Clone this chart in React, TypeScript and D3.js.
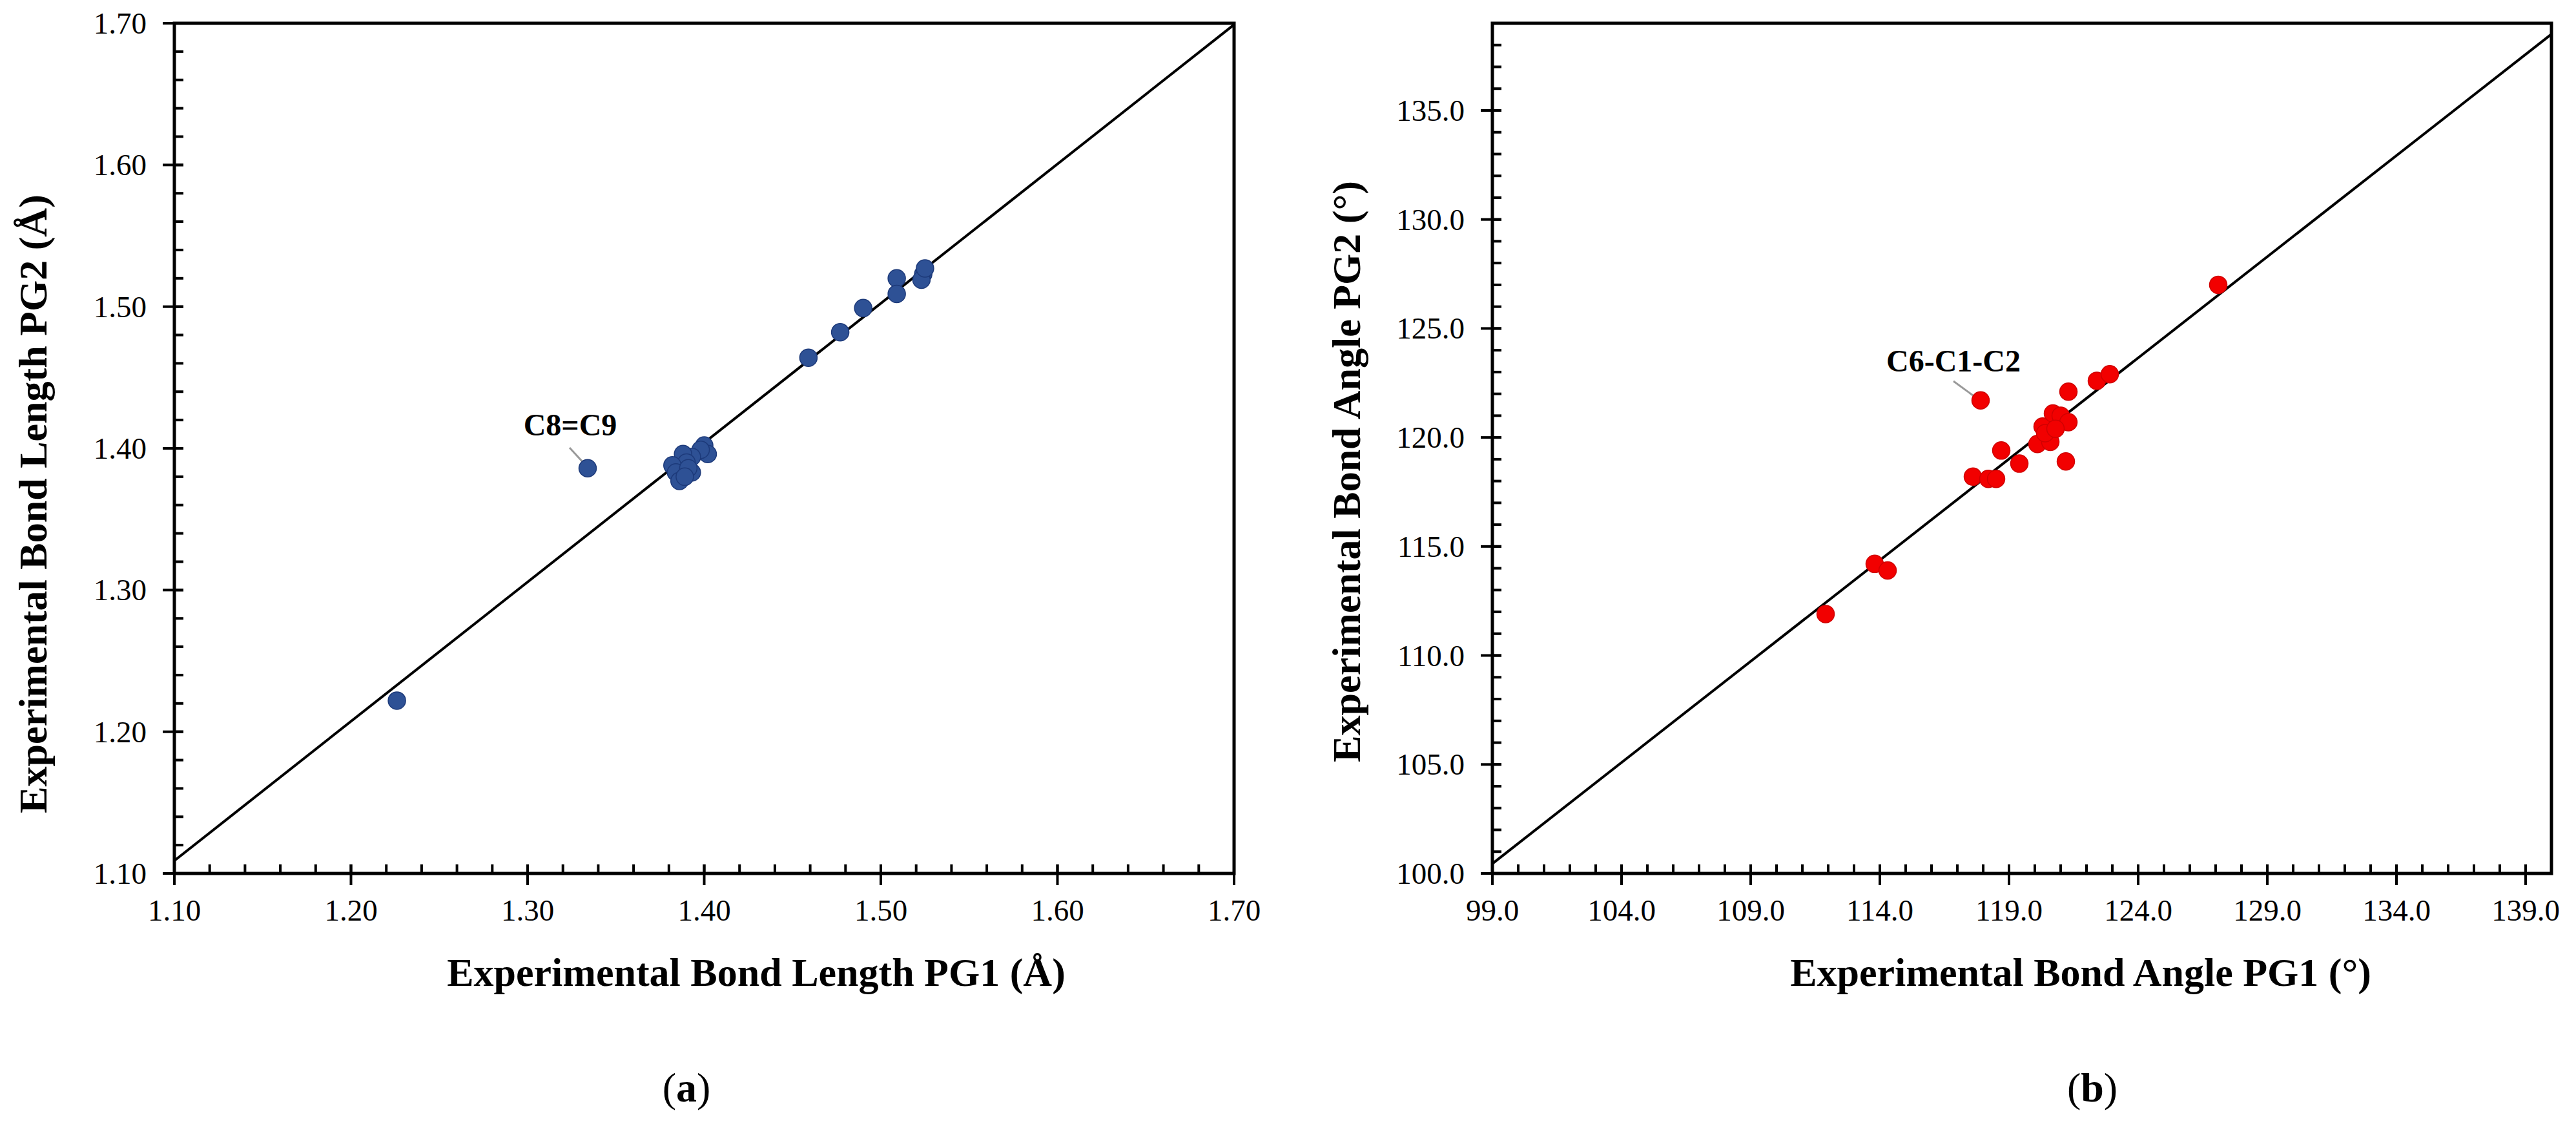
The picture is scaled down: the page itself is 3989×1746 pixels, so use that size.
import React from "react";
import * as d3 from "d3";

// ---------- data ----------
const lengthPG1 = [1.226, 1.334, 1.400, 1.402, 1.398, 1.393, 1.388, 1.390, 1.382, 1.384, 1.386, 1.393, 1.391, 1.389, 1.459, 1.477, 1.490, 1.509, 1.509, 1.524, 1.523, 1.525];
const lengthPG2 = [1.222, 1.386, 1.402, 1.396, 1.399, 1.394, 1.396, 1.390, 1.388, 1.383, 1.377, 1.383, 1.386, 1.380, 1.464, 1.482, 1.499, 1.520, 1.509, 1.523, 1.519, 1.527];

const anglePG1 = [111.9, 113.8, 114.3, 117.6, 118.2, 118.5, 118.7, 119.4, 117.9, 120.1, 120.3, 120.6, 120.7, 121.0, 120.4, 121.3, 121.3, 121.2, 122.4, 122.9, 127.1, 120.8];
const anglePG2 = [111.9, 114.2, 113.9, 118.2, 118.1, 118.1, 119.4, 118.8, 121.7, 119.7, 120.5, 119.8, 121.1, 121.0, 120.2, 120.7, 122.1, 118.9, 122.6, 122.9, 127.0, 120.4];

const lengthTicks = [1.1, 1.2, 1.3, 1.4, 1.5, 1.6, 1.7];
const angleXTicks = [99, 104, 109, 114, 119, 124, 129, 134, 139];
const angleYTicks = [100, 105, 110, 115, 120, 125, 130, 135];

const lengthFitX = [1.1, 1.7];
const lengthFitY = [1.109, 1.699];
const angleFitX = [99, 140];
const angleFitY = [100.45, 138.5];

const lengthLabel = { text: "C8=C9", pointIndex: 1 };
const angleLabel = { text: "C6-C1-C2", pointIndex: 8 };

// ---------- layout ----------
const W = 3989;
const H = 1746;
const FONT = "'Liberation Serif', 'Times New Roman', serif";
const TOP = 36;
const BOTTOM = 1352;

type PanelProps = {
  x: d3.ScaleLinear<number, number>;
  y: d3.ScaleLinear<number, number>;
  xs: number[];
  ys: number[];
  xTicks: number[];
  yTicks: number[];
  xMinor: number[];
  yMinor: number[];
  fmt: (v: number) => string;
  fitX: number[];
  fitY: number[];
  color: string;
  stroke: string;
  xTitle: string;
  yTitle: string;
  xTitleX: number;
  yTitleX: number;
  yTitleY: number;
  label: { text: string; pointIndex: number };
  labelPos: [number, number];
  leader: [number, number, number, number];
  sub: string;
  subX: number;
};

function Panel(p: PanelProps) {
  const [x0, x1] = p.x.range();
  const [y0, y1] = p.y.range();
  const line = d3.line<[number, number]>().x((d) => p.x(d[0])).y((d) => p.y(d[1]));
  const fit: [number, number][] = p.fitX.map((v, i) => [v, p.fitY[i]]);
  const minorLen = 14;
  const majorIn = 14;
  const majorOut = 18;
  return (
    <g>
      {/* fit line */}
      <path d={line(fit) || ""} stroke="#000" strokeWidth={4} fill="none" />
      {/* leader */}
      <line x1={p.leader[0]} y1={p.leader[1]} x2={p.leader[2]} y2={p.leader[3]} stroke="#9a9a9a" strokeWidth={3} />
      {/* points */}
      {p.xs.map((v, i) => (
        <circle key={i} cx={p.x(v)} cy={p.y(p.ys[i])} r={13.5} fill={p.color} stroke={p.stroke} strokeWidth={1.5} />
      ))}
      {/* minor ticks */}
      {p.xMinor.map((v, i) => (
        <line key={"xm" + i} x1={p.x(v)} x2={p.x(v)} y1={y0} y2={y0 - minorLen} stroke="#000" strokeWidth={4} />
      ))}
      {p.yMinor.map((v, i) => (
        <line key={"ym" + i} x1={x0} x2={x0 + minorLen} y1={p.y(v)} y2={p.y(v)} stroke="#000" strokeWidth={4} />
      ))}
      {/* major ticks */}
      {p.xTicks.map((v, i) => (
        <g key={"xt" + i}>
          <line x1={p.x(v)} x2={p.x(v)} y1={y0 + majorOut} y2={y0 - majorIn} stroke="#000" strokeWidth={4} />
          <text x={p.x(v)} y={y0 + 73} textAnchor="middle" fontFamily={FONT} fontSize={47} fill="#000">
            {p.fmt(v)}
          </text>
        </g>
      ))}
      {p.yTicks.map((v, i) => (
        <g key={"yt" + i}>
          <line x1={x0 - majorOut} x2={x0 + majorIn} y1={p.y(v)} y2={p.y(v)} stroke="#000" strokeWidth={4} />
          <text x={x0 - 43} y={p.y(v) + 16} textAnchor="end" fontFamily={FONT} fontSize={47} fill="#000">
            {p.fmt(v)}
          </text>
        </g>
      ))}
      {/* frame */}
      <rect x={x0} y={y1} width={x1 - x0} height={y0 - y1} fill="none" stroke="#000" strokeWidth={5} />
      {/* annotation */}
      <text x={p.labelPos[0]} y={p.labelPos[1]} textAnchor="middle" fontFamily={FONT} fontWeight="bold" fontSize={48} fill="#000">
        {p.label.text}
      </text>
      {/* titles */}
      <text x={p.xTitleX} y={1526} textAnchor="middle" fontFamily={FONT} fontWeight="bold" fontSize={62} fill="#000">
        {p.xTitle}
      </text>
      <text
        transform={`translate(${p.yTitleX},${p.yTitleY}) rotate(-90)`}
        textAnchor="middle"
        fontFamily={FONT}
        fontWeight="bold"
        fontSize={62}
        fill="#000"
      >
        {p.yTitle}
      </text>
      <text x={p.subX} y={1705} textAnchor="middle" fontFamily={FONT} fontSize={64} fill="#000">
        (<tspan fontWeight="bold">{p.sub}</tspan>)
      </text>
    </g>
  );
}

export default function App() {
  const xA = d3.scaleLinear().domain([1.1, 1.7]).range([270, 1911]);
  const yA = d3.scaleLinear().domain([1.1, 1.7]).range([BOTTOM, TOP]);
  const xB = d3.scaleLinear().domain([99, 140]).range([2311, 3951]);
  const yB = d3.scaleLinear().domain([100, 139]).range([BOTTOM, TOP]);

  const minorA = d3.range(0, 31).map((i) => 1.1 + i * 0.02);
  const minorBX = d3.range(99, 141, 1);
  const minorBY = d3.range(100, 140, 1);

  return (
    <svg
      width={W}
      height={H}
      viewBox={`0 0 ${W} ${H}`}
      style={{ position: "absolute", left: 0, top: 0, background: "#fff" }}
    >
      <rect x={0} y={0} width={W} height={H} fill="#fff" />
      <Panel
        x={xA}
        y={yA}
        xs={lengthPG1}
        ys={lengthPG2}
        xTicks={lengthTicks}
        yTicks={lengthTicks}
        xMinor={minorA}
        yMinor={minorA}
        fmt={(v) => v.toFixed(2)}
        fitX={lengthFitX}
        fitY={lengthFitY}
        color="#2E5195"
        stroke="#1D3A7A"
        xTitle="Experimental Bond Length PG1 (Å)"
        yTitle="Experimental Bond Length PG2 (Å)"
        xTitleX={1171}
        yTitleX={72}
        yTitleY={780}
        label={lengthLabel}
        labelPos={[883, 674]}
        leader={[882, 693, 905, 718]}
        sub="a"
        subX={1063}
      />
      <Panel
        x={xB}
        y={yB}
        xs={anglePG1}
        ys={anglePG2}
        xTicks={angleXTicks}
        yTicks={angleYTicks}
        xMinor={minorBX}
        yMinor={minorBY}
        fmt={(v) => v.toFixed(1)}
        fitX={angleFitX}
        fitY={angleFitY}
        color="#F20000"
        stroke="#D00000"
        xTitle="Experimental Bond Angle PG1 (°)"
        yTitle="Experimental Bond Angle PG2 (°)"
        xTitleX={3222}
        yTitleX={2106}
        yTitleY={730}
        label={angleLabel}
        labelPos={[3025, 575]}
        leader={[3025, 590, 3062, 617]}
        sub="b"
        subX={3240}
      />
    </svg>
  );
}
